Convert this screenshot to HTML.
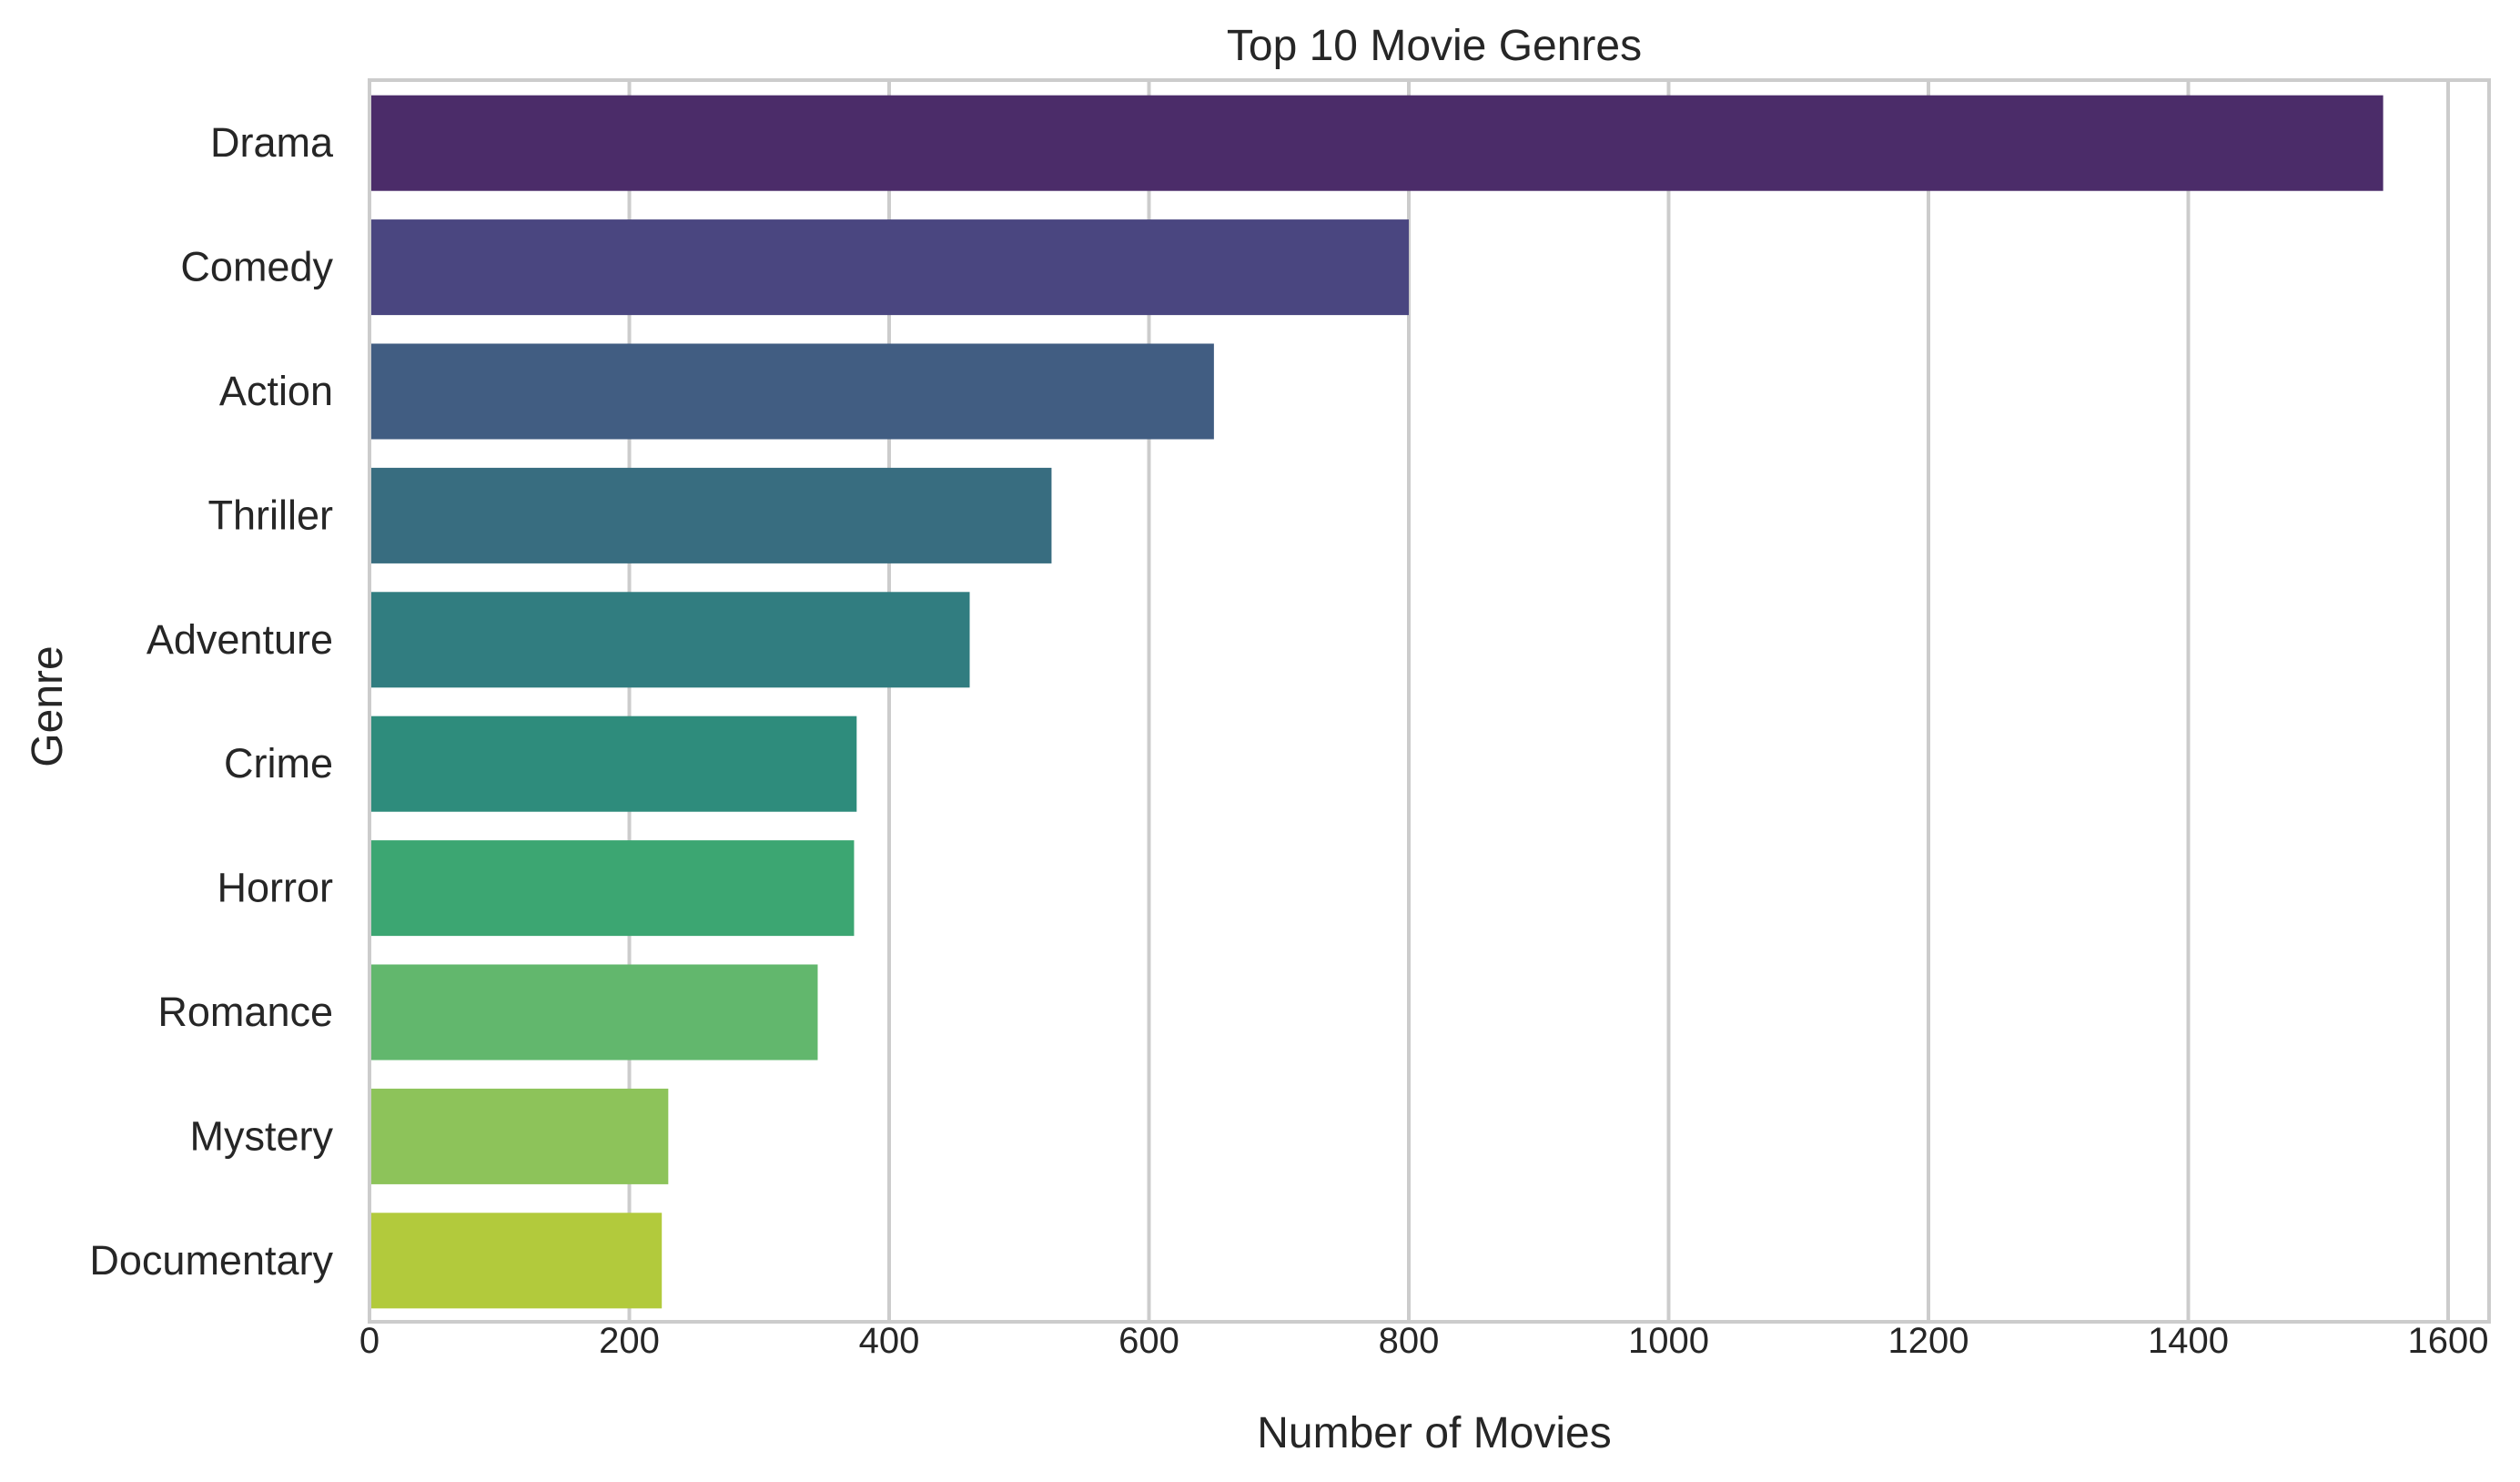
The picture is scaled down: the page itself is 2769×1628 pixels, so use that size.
<!DOCTYPE html>
<html><head><meta charset="utf-8"><style>
body{margin:0;background:#fff;}
svg text{font-family:"Liberation Sans",Arial,sans-serif;fill:#262626;}
</style></head><body>
<svg id="chart" width="2769" height="1623" xmlns="http://www.w3.org/2000/svg">
<rect width="2769" height="1623" fill="#fff"/>
<g id="grid"></g><g id="bars"></g><g id="yt"></g><g id="xt"></g>
<rect x="406" y="88" width="2329" height="1364" fill="none" stroke="#cccccc" stroke-width="4"/>
<text x="1576" y="66" font-size="48" text-anchor="middle">Top 10 Movie Genres</text>
<text x="1576" y="1590" font-size="48" text-anchor="middle">Number of Movies</text>
<text x="0" y="0" font-size="48" text-anchor="middle" transform="translate(68,776) rotate(-90)">Genre</text>
</svg>
<script>
const categories=["Drama","Comedy","Action","Thriller","Adventure","Crime","Horror","Romance","Mystery","Documentary"];
const values=[1550,800,650,525,462,375,373,345,230,225];
const colors=["#4b2c69","#4a4680","#415d82","#386d80","#317d80","#2e8c7c","#3ca672","#62b76d","#8dc35a","#b2ca3c"];
const xticks=[0,200,400,600,800,1000,1200,1400,1600];
const NS="http://www.w3.org/2000/svg";
const x0=406,plotTop=88,plotBottom=1452,pxPer=285.5/200;
const xs=v=>x0+v*pxPer;
const band=(plotBottom-plotTop)/categories.length;
function mk(t,a,p){const e=document.createElementNS(NS,t);for(const k in a)e.setAttribute(k,a[k]);p.appendChild(e);return e;}
const g=document.getElementById('grid'),b=document.getElementById('bars'),yt=document.getElementById('yt'),xt=document.getElementById('xt');
xticks.forEach(t=>{
 const l=mk('line',{x1:xs(t),x2:xs(t),y1:plotTop,y2:plotBottom,stroke:'#cccccc','stroke-width':4},g);
 
 
 const tx=mk('text',{x:xs(t),y:1486,'font-size':40,'text-anchor':'middle'},xt);
 tx.textContent=t;
 
 
});
categories.forEach((c,i)=>{
 const cy=plotTop+band*(i+0.5),h=band*0.77;
 const r=mk('rect',{x:x0,y:cy-h/2+1,width:xs(values[i])-x0,height:h,fill:colors[i]},b);
 
 
 const tx=mk('text',{x:366,y:cy+16,'font-size':45,'text-anchor':'end'},yt);
 tx.textContent=c;
 
 
});
</script>
</body></html>
